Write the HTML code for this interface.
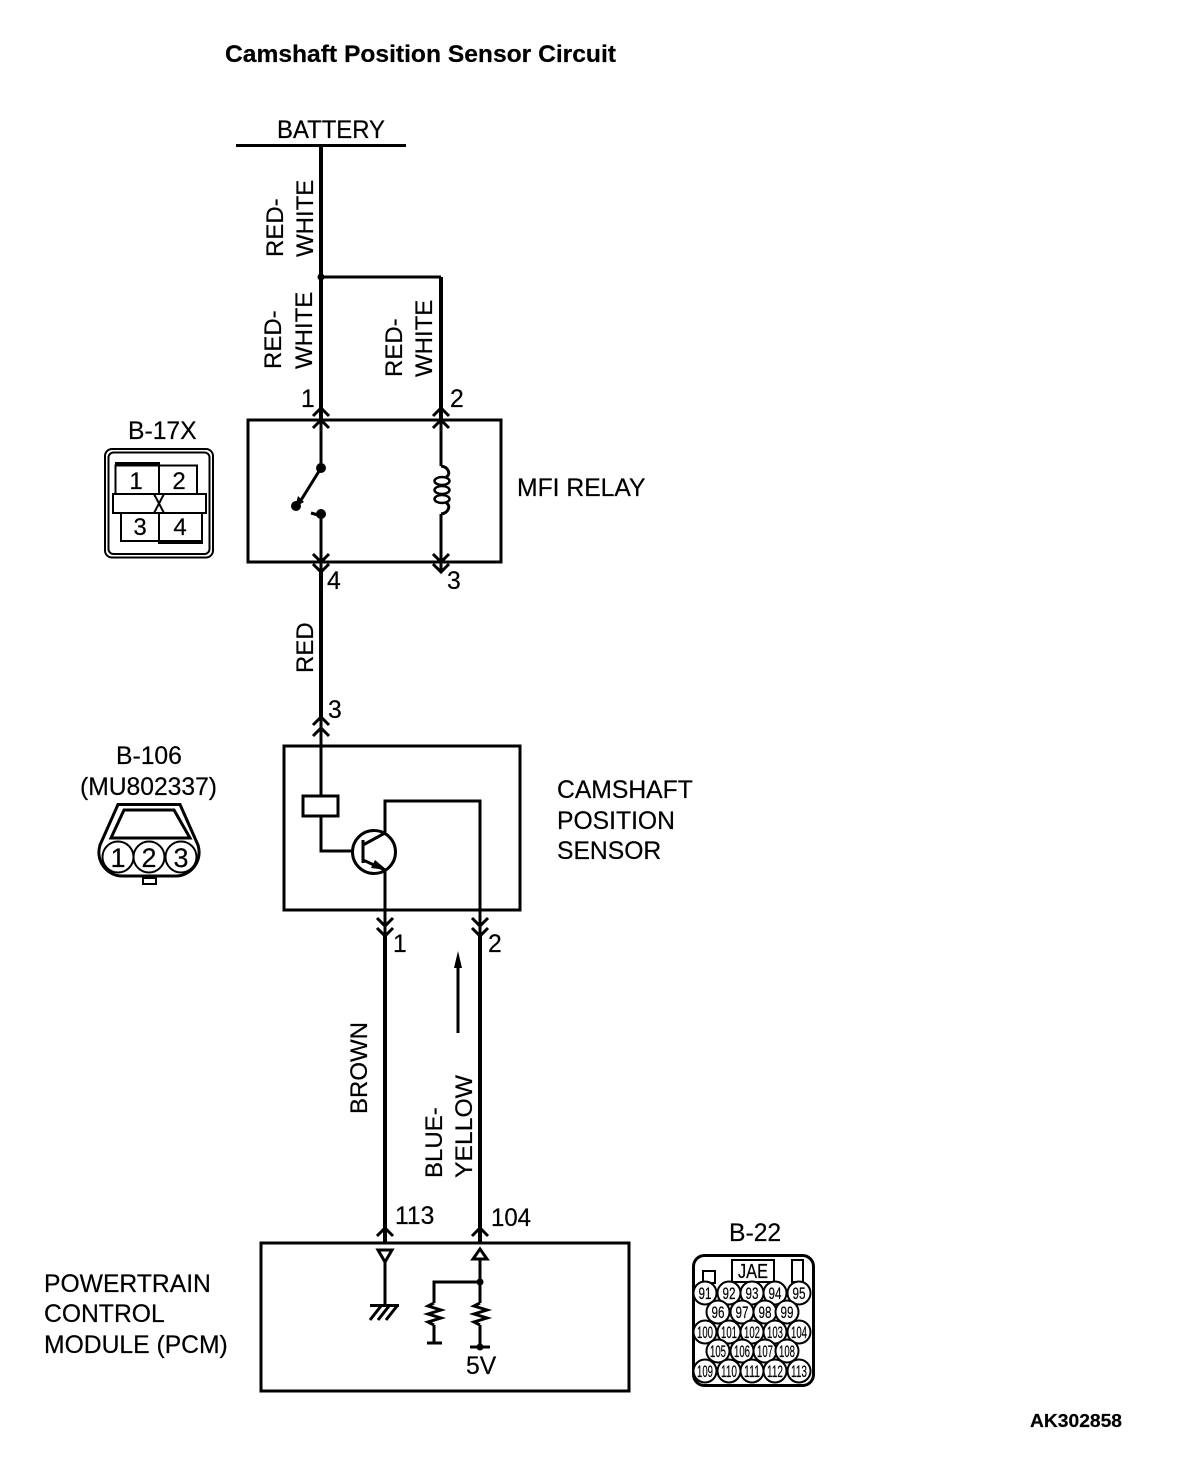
<!DOCTYPE html>
<html><head><meta charset="utf-8"><style>
html,body{margin:0;padding:0;background:#fff}
svg{display:block}
text{font-family:"Liberation Sans",sans-serif;fill:#000;stroke:#000;stroke-width:.2}
.t{font-size:24.7px}
.r{font-size:24px}
.w{fill:none;stroke:#000;stroke-width:4}
.l{fill:none;stroke:#000;stroke-width:3}
.m{fill:none;stroke:#000;stroke-width:2}
.n{font-size:17px;text-anchor:middle;stroke-width:0}
</style></head><body>
<svg width="1184" height="1472" viewBox="0 0 1184 1472" xmlns="http://www.w3.org/2000/svg">
<rect width="1184" height="1472" fill="#fff"/>
<text x="225" y="62" font-size="24" font-weight="bold" textLength="391" lengthAdjust="spacingAndGlyphs">Camshaft Position Sensor Circuit</text>
<text x="277" y="138" class="t" textLength="108" lengthAdjust="spacingAndGlyphs">BATTERY</text>
<path class="l" d="M236 145.500H406"/>
<path class="w" d="M321 146V420M441 277V420M321 572V720M385 936V1242M480 936V1242"/>
<path class="l" d="M321 277H441"/>
<circle cx="321" cy="277" r="3.500"/>
<g class="r">
<text transform="translate(283,257) rotate(-90)">RED-</text>
<text transform="translate(313,257) rotate(-90)">WHITE</text>
<text transform="translate(281,369) rotate(-90)">RED-</text>
<text transform="translate(312,369) rotate(-90)">WHITE</text>
<text transform="translate(402,377) rotate(-90)">RED-</text>
<text transform="translate(432,377) rotate(-90)">WHITE</text>
<text transform="translate(313,673) rotate(-90)">RED</text>
<text transform="translate(367,1114) rotate(-90)">BROWN</text>
<text transform="translate(442,1178) rotate(-90)">BLUE-</text>
<text transform="translate(472,1178) rotate(-90)" textLength="103" lengthAdjust="spacingAndGlyphs">YELLOW</text>
</g>
<g class="t">
<text x="301" y="407">1</text><text x="450" y="407">2</text>
<text x="327" y="589">4</text><text x="447" y="589">3</text>
<text x="328" y="718">3</text>
<text x="393" y="952">1</text><text x="488" y="952">2</text>
<text x="395" y="1224">113</text><text x="491" y="1226" textLength="40" lengthAdjust="spacingAndGlyphs">104</text>
<text x="128" y="439">B-17X</text>
<text x="517" y="496">MFI RELAY</text>
<text x="116" y="764">B-106</text>
<text x="80" y="795" textLength="137" lengthAdjust="spacingAndGlyphs">(MU802337)</text>
<text x="557" y="798">CAMSHAFT</text>
<text x="557" y="829">POSITION</text>
<text x="557" y="859">SENSOR</text>
<text x="44" y="1292">POWERTRAIN</text>
<text x="44" y="1322">CONTROL</text>
<text x="44" y="1353">MODULE (PCM)</text>
<text x="729" y="1241">B-22</text>
<text x="466" y="1374">5V</text>
</g>
<text x="1030" y="1427" font-size="18" font-weight="bold" textLength="92" lengthAdjust="spacingAndGlyphs">AK302858</text>

<!-- MFI relay -->
<rect class="l" x="248" y="420" width="253" height="142"/>
<path class="l" d="M313 416L321 408L329 416M313 428L321 420L329 428M433 416L441 408L449 416M433 428L441 420L449 428"/>
<path class="l" d="M313 554L321 562L329 554M313 564L321 572L329 564M433 554L441 562L449 554M433 564L441 572L449 564"/>
<path class="l" d="M321 420V468M321 514V572M441 420V466M441 514V572"/>
<circle cx="321" cy="468" r="5"/><circle cx="321" cy="514" r="5"/><circle cx="296" cy="506" r="5"/>
<path class="l" d="M321 468L298 505M311 513L318 515"/>
<path d="M298 496L304 502L295 507Z"/>
<path d="M0 0" />
<path class="l" d="M441 466C449 467 451 475 446 477M446 503C451 505 449 513 441 514"/>
<g fill="none" stroke="#000" stroke-width="2.500"><ellipse cx="442" cy="481" rx="7.500" ry="4"/><ellipse cx="442" cy="490" rx="7.500" ry="4"/><ellipse cx="442" cy="499" rx="7.500" ry="4"/></g>

<!-- B-17X connector -->
<rect class="m" x="105" y="449" width="108" height="108.500" rx="7"/>
<rect class="m" x="108.500" y="452.500" width="101" height="101.500" rx="5"/>
<path class="m" d="M115.500 494V465.500H197V494M121 513V541H202V513M159 465V494M159 513V541"/>
<rect class="m" x="113" y="494" width="93" height="19"/>
<path d="M115 462H160V466H115ZM158 540H203V544H158Z"/>
<path class="m" d="M154 494L164 513M164 494L154 513"/>
<g class="t" text-anchor="middle" style="font-size:24px"><text x="136" y="489">1</text><text x="179" y="489">2</text><text x="140" y="535">3</text><text x="180" y="535">4</text></g>

<!-- Sensor -->
<rect class="l" x="284" y="746" width="236" height="164"/>
<path class="l" d="M313 725L321 717L329 725M313 736L321 728L329 736"/>
<path class="l" d="M321 717V795M321 816V851H353M385 833V801H480V936M385 870V936"/>
<rect class="l" x="303" y="796" width="35" height="20"/>
<circle class="l" cx="374" cy="852" r="21.500"/>
<path class="l" d="M363 840V863M363 845L385 833M363 860L385 870"/>
<path d="M375 860L387 870L371 868Z"/>
<path class="l" d="M377 918L385 926L393 918M377 928L385 936L393 928M472 918L480 926L488 918M472 928L480 936L488 928"/>

<!-- B-106 connector -->
<path class="l" d="M118 804.500H180L198 845C203 862 190 876 176 876H122C108 876 95 862 100 845Z"/>
<path class="l" d="M124 810H174L190 838H111Z"/>
<g class="m" fill="#fff"><circle cx="118" cy="857" r="15.500" fill="#fff"/><circle cx="149" cy="857" r="15.500" fill="#fff"/><circle cx="181" cy="857" r="15.500" fill="#fff"/></g>
<rect class="m" x="143" y="878" width="13" height="6"/>
<g class="t" text-anchor="middle" style="font-size:27px"><text x="118" y="867">1</text><text x="149" y="867">2</text><text x="181" y="867">3</text></g>

<!-- Direction arrow -->
<path class="l" d="M458 1033V965"/>
<path d="M458 951L462 968H454Z"/>

<!-- PCM -->
<rect class="l" x="261" y="1243" width="368" height="148"/>
<path class="l" d="M377 1236L385 1228L393 1236M472 1236L480 1228L488 1236"/>
<path class="l" d="M378 1250H392L385 1262ZM385 1262V1305"/>
<path class="l" d="M473 1259H487L480 1249ZM480 1259V1303M480 1282H434V1303M480 1325V1347M434 1325V1343M427 1343H442M470 1347H490"/>
<circle cx="480" cy="1282" r="3.500"/><circle cx="480" cy="1347" r="3.500"/>
<path class="l" d="M370 1305.500H399M381 1306L370 1320M389 1306L378 1320M397 1306L386 1320"/>
<path class="l" d="M434 1303L428 1306L441 1310L428 1314L441 1318L428 1322L434 1325M480 1303L474 1306L487 1310L474 1314L487 1318L474 1322L480 1325"/>

<!-- B-22 connector -->
<rect x="693.500" y="1255.500" width="120" height="130" rx="11" fill="none" stroke="#000" stroke-width="3"/>
<rect class="m" x="703" y="1271" width="12" height="12"/>
<rect class="m" x="732" y="1260" width="42" height="22"/>
<rect class="m" x="792" y="1260" width="11" height="22"/>
<text x="753" y="1278" font-size="20" text-anchor="middle" textLength="30" lengthAdjust="spacingAndGlyphs">JAE</text>
<g fill="#fff" stroke="#000" stroke-width="2">
<circle cx="705" cy="1293" r="11.500"/><circle cx="729" cy="1293" r="11.500"/><circle cx="752" cy="1293" r="11.500"/><circle cx="775" cy="1293" r="11.500"/><circle cx="799" cy="1293" r="11.500"/>
<circle cx="718" cy="1312" r="11.500"/><circle cx="742" cy="1312" r="11.500"/><circle cx="765" cy="1312" r="11.500"/><circle cx="787" cy="1312" r="11.500"/>
<circle cx="705" cy="1332" r="11.500"/><circle cx="729" cy="1332" r="11.500"/><circle cx="752" cy="1332" r="11.500"/><circle cx="775" cy="1332" r="11.500"/><circle cx="799" cy="1332" r="11.500"/>
<circle cx="718" cy="1351" r="11.500"/><circle cx="742" cy="1351" r="11.500"/><circle cx="765" cy="1351" r="11.500"/><circle cx="787" cy="1351" r="11.500"/>
<circle cx="705" cy="1371" r="11.500"/><circle cx="729" cy="1371" r="11.500"/><circle cx="752" cy="1371" r="11.500"/><circle cx="775" cy="1371" r="11.500"/><circle cx="799" cy="1371" r="11.500"/>
</g>
<g class="n">
<text x="705" y="1299" textLength="13" lengthAdjust="spacingAndGlyphs">91</text><text x="729" y="1299" textLength="13" lengthAdjust="spacingAndGlyphs">92</text><text x="752" y="1299" textLength="13" lengthAdjust="spacingAndGlyphs">93</text><text x="775" y="1299" textLength="13" lengthAdjust="spacingAndGlyphs">94</text><text x="799" y="1299" textLength="13" lengthAdjust="spacingAndGlyphs">95</text>
<text x="718" y="1318" textLength="13" lengthAdjust="spacingAndGlyphs">96</text><text x="742" y="1318" textLength="13" lengthAdjust="spacingAndGlyphs">97</text><text x="765" y="1318" textLength="13" lengthAdjust="spacingAndGlyphs">98</text><text x="787" y="1318" textLength="13" lengthAdjust="spacingAndGlyphs">99</text>
<text x="705" y="1338" textLength="16" lengthAdjust="spacingAndGlyphs">100</text><text x="729" y="1338" textLength="16" lengthAdjust="spacingAndGlyphs">101</text><text x="752" y="1338" textLength="16" lengthAdjust="spacingAndGlyphs">102</text><text x="775" y="1338" textLength="16" lengthAdjust="spacingAndGlyphs">103</text><text x="799" y="1338" textLength="16" lengthAdjust="spacingAndGlyphs">104</text>
<text x="718" y="1357" textLength="16" lengthAdjust="spacingAndGlyphs">105</text><text x="742" y="1357" textLength="16" lengthAdjust="spacingAndGlyphs">106</text><text x="765" y="1357" textLength="16" lengthAdjust="spacingAndGlyphs">107</text><text x="787" y="1357" textLength="16" lengthAdjust="spacingAndGlyphs">108</text>
<text x="705" y="1377" textLength="16" lengthAdjust="spacingAndGlyphs">109</text><text x="729" y="1377" textLength="16" lengthAdjust="spacingAndGlyphs">110</text><text x="752" y="1377" textLength="16" lengthAdjust="spacingAndGlyphs">111</text><text x="775" y="1377" textLength="16" lengthAdjust="spacingAndGlyphs">112</text><text x="799" y="1377" textLength="16" lengthAdjust="spacingAndGlyphs">113</text>
</g>
</svg>
</body></html>
